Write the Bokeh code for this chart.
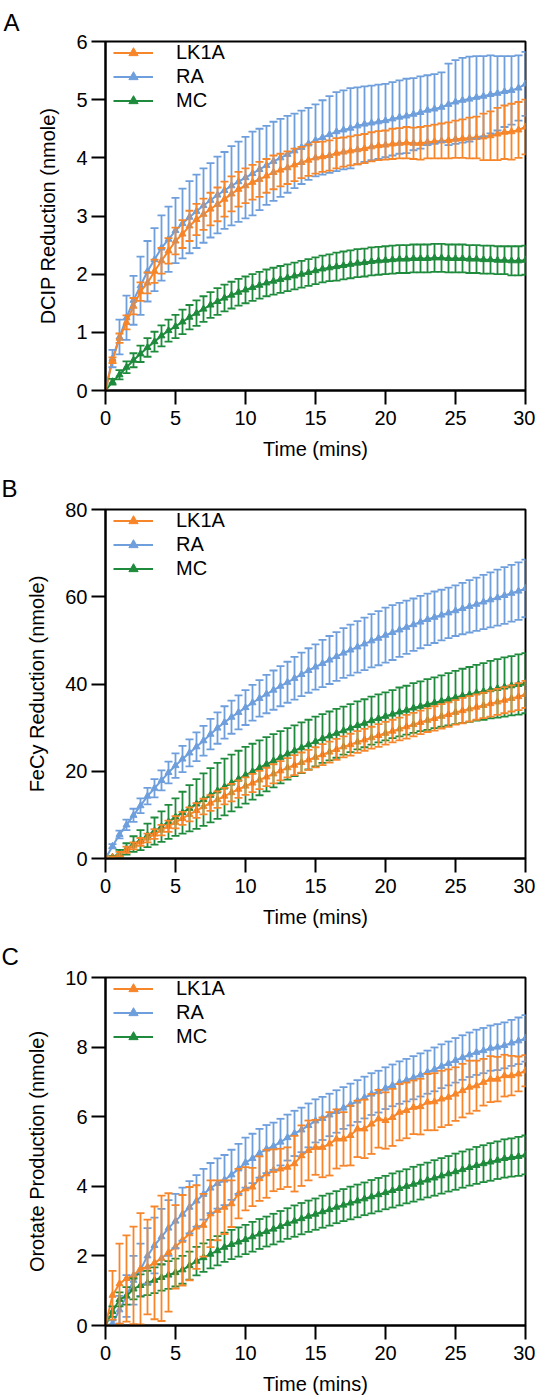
from bokeh.plotting import figure
from bokeh.models import (ColumnDataSource, Range1d, FixedTicker, Whisker, TeeHead,
                          Legend, LegendItem)
from bokeh.layouts import column
from bokeh.embed import file_html
from bokeh.resources import INLINE

# ---------------- data ----------------
TIME = [0, 0.5, 1, 1.5, 2, 2.5, 3, 3.5, 4, 4.5,
        5, 5.5, 6, 6.5, 7, 7.5, 8, 8.5, 9, 9.5,
        10, 10.5, 11, 11.5, 12, 12.5, 13, 13.5, 14, 14.5,
        15, 15.5, 16, 16.5, 17, 17.5, 18, 18.5, 19, 19.5,
        20, 20.5, 21, 21.5, 22, 22.5, 23, 23.5, 24, 24.5,
        25, 25.5, 26, 26.5, 27, 27.5, 28, 28.5, 29, 29.5,
        30]

SERIES = ["LK1A", "RA", "MC"]
X_TICKS = [0, 5, 10, 15, 20, 25, 30]

# Panel A: DCIP reduction (nmole)
A_LK1A = [0.00, 0.52, 0.90, 1.17, 1.45, 1.70, 1.85, 2.05, 2.23, 2.40,
          2.57, 2.69, 2.83, 2.94, 3.03, 3.12, 3.20, 3.29, 3.38, 3.46,
          3.52, 3.58, 3.63, 3.69, 3.75, 3.79, 3.83, 3.88, 3.92, 3.96,
          4.00, 4.02, 4.04, 4.08, 4.10, 4.12, 4.14, 4.16, 4.19, 4.21,
          4.22, 4.24, 4.25, 4.26, 4.25, 4.25, 4.27, 4.28, 4.29, 4.30,
          4.32, 4.33, 4.34, 4.35, 4.36, 4.38, 4.41, 4.44, 4.45, 4.48,
          4.53]
A_LK1A_ERR = [0.00, 0.05, 0.08, 0.12, 0.14, 0.16, 0.18, 0.20, 0.22, 0.22,
              0.23, 0.24, 0.26, 0.27, 0.27, 0.28, 0.29, 0.30, 0.30, 0.30,
              0.30, 0.30, 0.30, 0.29, 0.29, 0.28, 0.28, 0.28, 0.27, 0.27,
              0.27, 0.26, 0.26, 0.26, 0.25, 0.25, 0.25, 0.25, 0.25, 0.25,
              0.25, 0.26, 0.26, 0.27, 0.27, 0.28, 0.28, 0.29, 0.30, 0.31,
              0.32, 0.33, 0.35, 0.36, 0.40, 0.42, 0.45, 0.46, 0.48, 0.48,
              0.47]
A_RA = [0.00, 0.55, 0.92, 1.25, 1.55, 1.80, 2.05, 2.25, 2.45, 2.60,
        2.75, 2.87, 2.98, 3.08, 3.18, 3.27, 3.36, 3.44, 3.52, 3.59,
        3.66, 3.73, 3.80, 3.87, 3.94, 4.00, 4.06, 4.12, 4.18, 4.24,
        4.30, 4.35, 4.40, 4.45, 4.48, 4.51, 4.55, 4.58, 4.60, 4.62,
        4.64, 4.67, 4.70, 4.72, 4.75, 4.78, 4.82, 4.84, 4.87, 4.92,
        4.96, 4.99, 5.01, 5.04, 5.06, 5.09, 5.11, 5.14, 5.16, 5.20,
        5.27]
A_RA_ERR = [0.00, 0.15, 0.30, 0.38, 0.42, 0.50, 0.52, 0.54, 0.56, 0.56,
            0.56, 0.60, 0.62, 0.63, 0.64, 0.64, 0.66, 0.66, 0.68, 0.69,
            0.70, 0.72, 0.70, 0.68, 0.68, 0.67, 0.66, 0.64, 0.63, 0.62,
            0.62, 0.64, 0.66, 0.68, 0.68, 0.69, 0.66, 0.65, 0.64, 0.64,
            0.63, 0.63, 0.63, 0.64, 0.62, 0.62, 0.60, 0.60, 0.60, 0.70,
            0.72, 0.73, 0.73, 0.71, 0.69, 0.67, 0.64, 0.61, 0.59, 0.56,
            0.55]
A_MC = [0.00, 0.15, 0.27, 0.40, 0.52, 0.63, 0.74, 0.84, 0.94, 1.03,
        1.10, 1.18, 1.26, 1.33, 1.40, 1.47, 1.53, 1.59, 1.64, 1.69,
        1.73, 1.77, 1.81, 1.85, 1.88, 1.91, 1.94, 1.97, 2.00, 2.03,
        2.06, 2.09, 2.11, 2.13, 2.15, 2.17, 2.19, 2.20, 2.22, 2.23,
        2.24, 2.25, 2.26, 2.26, 2.27, 2.27, 2.27, 2.28, 2.28, 2.27,
        2.27, 2.27, 2.26, 2.26, 2.25, 2.25, 2.24, 2.24, 2.23, 2.23,
        2.24]
A_MC_ERR = [0.00, 0.05, 0.08, 0.10, 0.12, 0.14, 0.16, 0.17, 0.18, 0.19,
            0.20, 0.21, 0.21, 0.22, 0.22, 0.22, 0.23, 0.23, 0.23, 0.23,
            0.23, 0.23, 0.23, 0.23, 0.23, 0.23, 0.23, 0.23, 0.23, 0.23,
            0.23, 0.23, 0.23, 0.24, 0.24, 0.24, 0.24, 0.24, 0.24, 0.24,
            0.24, 0.24, 0.24, 0.24, 0.24, 0.24, 0.24, 0.24, 0.24, 0.24,
            0.24, 0.24, 0.24, 0.24, 0.24, 0.24, 0.24, 0.24, 0.25, 0.25,
            0.25]

# Panel B: FeCy reduction (nmole)
B_LK1A = [0.0, 0.2, 1.0, 2.0, 2.9, 3.8, 4.7, 5.6, 6.5, 7.4,
          8.3, 9.2, 10.1, 11.0, 11.9, 12.7, 13.5, 14.3, 15.1, 15.9,
          16.6, 17.3, 18.0, 18.7, 19.4, 20.1, 20.8, 21.4, 22.0, 22.6,
          23.2, 23.8, 24.4, 25.0, 25.6, 26.1, 26.7, 27.2, 27.7, 28.2,
          28.7, 29.2, 29.7, 30.2, 30.7, 31.2, 31.7, 32.1, 32.6, 33.0,
          33.5, 33.9, 34.3, 34.7, 35.1, 35.5, 35.9, 36.3, 36.7, 37.1,
          37.6]
B_LK1A_ERR = [0.0, 0.3, 0.5, 0.7, 0.8, 0.9, 1.0, 1.1, 1.2, 1.3,
              1.4, 1.5, 1.6, 1.7, 1.8, 1.8, 1.9, 1.9, 2.0, 2.0,
              2.0, 2.1, 2.1, 2.1, 2.2, 2.2, 2.2, 2.3, 2.3, 2.3,
              2.3, 2.4, 2.4, 2.4, 2.4, 2.5, 2.5, 2.5, 2.5, 2.6,
              2.6, 2.6, 2.6, 2.7, 2.7, 2.7, 2.7, 2.8, 2.8, 2.8,
              2.8, 2.9, 2.9, 2.9, 2.9, 3.0, 3.0, 3.0, 3.0, 3.1,
              3.1]
B_RA = [0.0, 2.8, 5.5, 7.7, 9.9, 12.1, 14.3, 16.1, 17.9, 19.7,
        21.3, 22.8, 24.2, 25.6, 27.0, 28.5, 29.9, 31.2, 32.4, 33.5,
        34.6, 35.7, 36.7, 37.7, 38.6, 39.5, 40.4, 41.3, 42.2, 43.1,
        43.9, 44.7, 45.5, 46.3, 47.1, 47.8, 48.5, 49.2, 49.9, 50.5,
        51.2, 51.8, 52.4, 53.0, 53.6, 54.2, 54.8, 55.3, 55.8, 56.3,
        56.8, 57.3, 57.8, 58.3, 58.8, 59.3, 59.8, 60.3, 60.8, 61.3,
        61.9]
B_RA_ERR = [0.0, 0.5, 0.9, 1.2, 1.5, 1.7, 1.9, 2.1, 2.3, 2.5,
            2.8, 3.0, 3.1, 3.3, 3.4, 3.5, 3.6, 3.7, 3.8, 3.9,
            4.0, 4.1, 4.2, 4.4, 4.5, 4.6, 4.7, 4.9, 5.0, 5.1,
            5.2, 5.4, 5.5, 5.6, 5.7, 5.8, 5.9, 6.0, 6.1, 6.2,
            6.3, 6.3, 6.2, 6.1, 6.0, 6.0, 5.9, 5.9, 5.8, 5.8,
            5.8, 5.9, 6.0, 6.1, 6.2, 6.3, 6.4, 6.5, 6.5, 6.6,
            6.6]
B_MC = [0.0, 0.3, 1.2, 2.2, 3.3, 4.2, 5.3, 6.3, 7.3, 8.4,
        9.5, 10.5, 11.5, 12.5, 13.5, 14.5, 15.5, 16.4, 17.3, 18.2,
        19.1, 19.9, 20.8, 21.6, 22.4, 23.2, 24.0, 24.7, 25.4, 26.1,
        26.8, 27.5, 28.1, 28.7, 29.3, 29.9, 30.5, 31.0, 31.6, 32.1,
        32.6, 33.1, 33.6, 34.0, 34.5, 34.9, 35.3, 35.7, 36.1, 36.5,
        36.9, 37.3, 37.6, 38.0, 38.3, 38.7, 39.0, 39.3, 39.6, 39.9,
        40.2]
B_MC_ERR = [0.0, 0.3, 0.8, 1.3, 1.8, 2.3, 2.7, 3.1, 3.5, 3.9,
            4.3, 4.8, 5.3, 5.7, 6.0, 6.2, 6.4, 6.5, 6.5, 6.5,
            6.5, 6.4, 6.3, 6.2, 6.1, 6.0, 5.9, 5.8, 5.8, 5.7,
            5.7, 5.6, 5.6, 5.6, 5.5, 5.5, 5.5, 5.5, 5.5, 5.5,
            5.5, 5.5, 5.6, 5.6, 5.7, 5.7, 5.8, 5.8, 5.9, 6.0,
            6.1, 6.2, 6.3, 6.4, 6.5, 6.6, 6.7, 6.8, 6.8, 6.9,
            6.9]

# Panel C: orotate production (nmole)
C_LK1A = [0.00, 0.87, 1.20, 1.35, 1.44, 1.63, 1.68, 1.80, 1.93, 2.10,
          2.26, 2.45, 2.64, 2.83, 2.88, 3.21, 3.31, 3.40, 3.50, 3.79,
          3.93, 3.98, 4.22, 4.36, 4.46, 4.50, 4.55, 4.65, 4.88, 5.03,
          5.12, 5.12, 5.22, 5.36, 5.36, 5.46, 5.65, 5.65, 5.79, 5.94,
          5.89, 5.98, 6.13, 6.18, 6.27, 6.29, 6.42, 6.43, 6.51, 6.56,
          6.65, 6.75, 6.85, 6.89, 6.99, 7.08, 7.08, 7.18, 7.18, 7.23,
          7.32]
C_LK1A_ERR = [0.00, 0.70, 1.15, 1.24, 1.40, 1.60, 1.36, 1.62, 1.80, 1.70,
              1.20, 1.30, 1.34, 1.20, 0.90, 0.96, 0.86, 0.77, 0.67, 0.71,
              0.62, 0.55, 0.64, 0.69, 0.60, 0.58, 0.57, 0.80, 0.87, 0.86,
              0.79, 0.86, 0.91, 0.85, 0.77, 0.86, 0.81, 0.84, 0.86, 0.83,
              0.81, 0.82, 0.81, 0.80, 0.77, 0.80, 0.81, 0.82, 0.81, 0.80,
              0.77, 0.77, 0.76, 0.72, 0.67, 0.66, 0.64, 0.60, 0.57, 0.50,
              0.45]
C_RA = [0.00, 0.05, 0.45, 0.85, 1.30, 1.60, 2.00, 2.30, 2.55, 2.80,
        3.00, 3.20, 3.40, 3.58, 3.77, 3.95, 4.08, 4.18, 4.33, 4.50,
        4.68, 4.80, 4.95, 5.07, 5.15, 5.27, 5.40, 5.52, 5.62, 5.75,
        5.88, 5.95, 6.05, 6.15, 6.25, 6.35, 6.45, 6.55, 6.65, 6.72,
        6.82, 6.90, 6.98, 7.05, 7.12, 7.20, 7.28, 7.36, 7.45, 7.53,
        7.62, 7.70, 7.78, 7.85, 7.90, 7.97, 8.00, 8.05, 8.12, 8.18,
        8.25]
C_RA_ERR = [0.00, 0.10, 0.40, 0.60, 0.70, 0.75, 0.80, 0.80, 0.80, 0.80,
            0.78, 0.76, 0.75, 0.74, 0.73, 0.72, 0.72, 0.72, 0.72, 0.72,
            0.72, 0.71, 0.70, 0.69, 0.68, 0.67, 0.66, 0.65, 0.64, 0.63,
            0.62, 0.62, 0.61, 0.61, 0.60, 0.60, 0.60, 0.60, 0.60, 0.60,
            0.60, 0.60, 0.61, 0.61, 0.62, 0.62, 0.62, 0.63, 0.63, 0.63,
            0.64, 0.64, 0.64, 0.65, 0.65, 0.65, 0.66, 0.66, 0.66, 0.67,
            0.67]
C_MC = [0.00, 0.40, 0.75, 0.85, 1.05, 1.15, 1.22, 1.30, 1.38, 1.45,
        1.52, 1.60, 1.72, 1.85, 1.95, 2.05, 2.15, 2.25, 2.33, 2.40,
        2.47, 2.55, 2.63, 2.70, 2.77, 2.85, 2.93, 3.00, 3.07, 3.14,
        3.20, 3.27, 3.33, 3.40, 3.46, 3.52, 3.58, 3.64, 3.70, 3.76,
        3.82, 3.88, 3.94, 4.00, 4.06, 4.12, 4.18, 4.24, 4.30, 4.36,
        4.42, 4.48, 4.54, 4.60, 4.65, 4.70, 4.75, 4.80, 4.83, 4.86,
        4.90]
C_MC_ERR = [0.00, 0.15, 0.20, 0.25, 0.30, 0.32, 0.35, 0.37, 0.38, 0.40,
            0.40, 0.40, 0.40, 0.41, 0.41, 0.41, 0.42, 0.42, 0.42, 0.42,
            0.42, 0.43, 0.43, 0.43, 0.44, 0.44, 0.44, 0.45, 0.45, 0.45,
            0.45, 0.46, 0.46, 0.46, 0.46, 0.47, 0.47, 0.47, 0.48, 0.48,
            0.48, 0.49, 0.49, 0.49, 0.50, 0.50, 0.50, 0.51, 0.51, 0.51,
            0.52, 0.52, 0.52, 0.53, 0.53, 0.54, 0.54, 0.55, 0.55, 0.56,
            0.56]

COLORS = {"LK1A": "#F7862A", "RA": "#6E9FDC", "MC": "#1E8B3C"}
FONT = "Liberation Sans"
FRAME_LEFT = 105


def make_panel(letter, ylabel, ymax, yticks, data, height, btop, bbottom,
               xstand, frame_h, letter_x, letter_standoff):
    p = figure(width=535, height=height, output_backend="svg",
               toolbar_location=None, x_range=Range1d(0, 30),
               y_range=Range1d(0, ymax),
               min_border_left=FRAME_LEFT, min_border_right=10,
               min_border_top=btop, min_border_bottom=bbottom)
    p.background_fill_color = "white"
    p.border_fill_color = "white"
    p.outline_line_color = "black"
    p.outline_line_width = 2
    p.xgrid.visible = False
    p.ygrid.visible = False

    # panel letter as a left-aligned title pulled back to the canvas edge
    p.title.text = letter
    p.title.align = "left"
    p.title.offset = letter_x - FRAME_LEFT
    p.title.standoff = letter_standoff
    p.title.text_font = FONT
    p.title.text_font_size = "24px"
    p.title.text_font_style = "normal"
    p.title.text_color = "black"

    p.xaxis.ticker = FixedTicker(ticks=X_TICKS)
    p.yaxis.ticker = FixedTicker(ticks=yticks)
    for ax in (p.xaxis[0], p.yaxis[0]):
        ax.axis_line_width = 2
        ax.axis_line_color = "black"
        ax.major_tick_line_width = 2
        ax.major_tick_line_color = "black"
        ax.major_tick_out = 14
        ax.major_tick_in = 0
        ax.minor_tick_line_color = None
        ax.major_label_text_font = FONT
        ax.major_label_text_font_size = "20px"
        ax.major_label_text_color = "black"
        ax.axis_label_text_font = FONT
        ax.axis_label_text_font_size = "20px"
        ax.axis_label_text_font_style = "normal"
        ax.axis_label_text_color = "black"
    p.xaxis.axis_label = "Time (mins)"
    p.xaxis.major_label_standoff = 6
    p.xaxis.axis_label_standoff = xstand
    p.yaxis.axis_label = ylabel
    p.yaxis.major_label_standoff = 4
    p.yaxis.axis_label_standoff = 14

    items = {}
    # draw order: RA (back), MC, LK1A (front)
    for name in ["RA", "MC", "LK1A"]:
        mean, err = data[name]
        c = COLORS[name]
        src = ColumnDataSource(dict(
            t=TIME, y=mean,
            up=[m + e for m, e in zip(mean, err)],
            lo=[m - e for m, e in zip(mean, err)]))
        w = Whisker(source=src, base="t", upper="up", lower="lo",
                    line_color=c, line_width=1.8, level="glyph",
                    upper_head=TeeHead(size=8, line_color=c, line_width=1.8),
                    lower_head=TeeHead(size=8, line_color=c, line_width=1.8))
        p.add_layout(w)
        lr = p.line("t", "y", source=src, line_color=c, line_width=2)
        sr = p.scatter("t", "y", source=src, marker="triangle", size=7,
                       fill_color=c, line_color=c)
        items[name] = [lr, sr]

    legend = Legend(items=[LegendItem(label=n, renderers=items[n]) for n in SERIES],
                    location=(8, frame_h - 71), margin=0, padding=0,
                    spacing=1, glyph_width=40, glyph_height=23,
                    label_height=23, label_standoff=23,
                    label_text_font=FONT, label_text_font_size="20px",
                    label_text_color="black",
                    background_fill_alpha=0, border_line_alpha=0)
    p.add_layout(legend)
    return p


pa = make_panel("A", "DCIP Reduction (nmole)", 6, [0, 1, 2, 3, 4, 5, 6],
                {"LK1A": (A_LK1A, A_LK1A_ERR), "RA": (A_RA, A_RA_ERR),
                 "MC": (A_MC, A_MC_ERR)},
                465, 41, 75, 10, 349, 3, 12)
pb = make_panel("B", "FeCy Reduction (nmole)", 80, [0, 20, 40, 60, 80],
                {"LK1A": (B_LK1A, B_LK1A_ERR), "RA": (B_RA, B_RA_ERR),
                 "MC": (B_MC, B_MC_ERR)},
                467, 44, 74, 10, 349, 1, 15)
pc = make_panel("C", "Orotate Production (nmole)", 10, [0, 2, 4, 6, 8, 10],
                {"LK1A": (C_LK1A, C_LK1A_ERR), "RA": (C_RA, C_RA_ERR),
                 "MC": (C_MC, C_MC_ERR)},
                467, 45, 74, 10, 348, 1, 16)

layout = column(pa, pb, pc, spacing=0)
open("out.html", "w").write(file_html(layout, INLINE))
